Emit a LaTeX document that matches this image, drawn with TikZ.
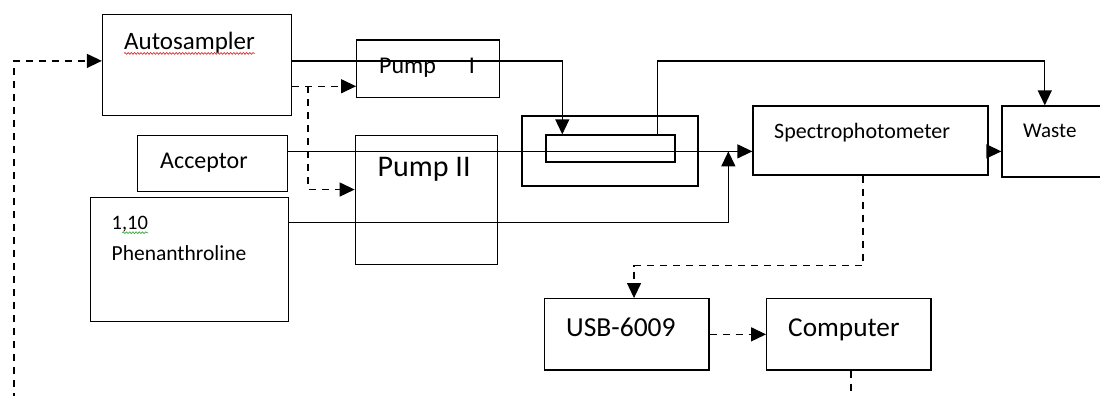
\documentclass[tikz,border=0pt]{standalone}
\usepackage{fontspec}
\setmainfont{Carlito}
\usetikzlibrary{arrows.meta,calc,decorations.pathmorphing}
\definecolor{spellred}{RGB}{226,44,44}
\definecolor{spellgreen}{RGB}{60,170,60}
\begin{document}
\begin{tikzpicture}[x=1pt,y=-1pt,
  box/.style={draw, line width=1.3pt, inner sep=0pt, rectangle},
  lbl/.style={anchor=base west, inner sep=0pt, text=black},
  flow/.style={line width=1.3pt, -{Triangle[length=15pt,width=14pt]}},
  dflow/.style={flow, dash pattern=on 7pt off 6pt},
  dline/.style={line width=1.3pt, dash pattern=on 7pt off 6pt},
  squiggle/.style={line width=0.7pt, decorate, decoration={snake, amplitude=0.9pt, segment length=3.2pt}}
  ]
\useasboundingbox (0,0) rectangle (1100,396);
\clip (0,0) rectangle (1100,396);

% boxes
\node[box, minimum width=189pt, minimum height=101.4pt] (auto) at (197,65) {};
\node[box, minimum width=143pt, minimum height=57.7pt] (pumpI) at (428.25,68.85) {};
\node[box, minimum width=149.5pt, minimum height=56.4pt] (acc) at (212.5,163.5) {};
\node[box, minimum width=142pt, minimum height=129.4pt] (pumpII) at (426.3,200) {};
\node[box, minimum width=198.2pt, minimum height=124pt] (phen) at (189.6,259.3) {};
\node[box, minimum width=176pt, minimum height=70pt] (reactor) at (610,151) {};
\node[box, minimum width=129pt, minimum height=27pt] (inner) at (610.5,148.5) {};
\node[box, minimum width=235pt, minimum height=69pt] (spec) at (870.5,140.5) {};
\node[box, minimum width=113pt, minimum height=71pt] (waste) at (1058.5,141.5) {};
\node[box, minimum width=164.2pt, minimum height=71.3pt] (usb) at (626.9,334.35) {};
\node[box, minimum width=164.3pt, minimum height=71.3pt] (comp) at (848.85,334.35) {};

% labels
\node[lbl, font=\fontsize{25}{30}\selectfont] (autoT) at (124,50) {Autosampler};
\node[lbl, font=\fontsize{24}{29}\selectfont] (pumpIT) at (379,74) {Pump\hspace{33pt}I};
\node[lbl, font=\fontsize{24}{29}\selectfont] (accT) at (160,168.3) {Acceptor};
\node[lbl, font=\fontsize{30}{36}\selectfont] (pumpIIT) at (377.5,176) {Pump II};
\node[lbl, font=\fontsize{20.5}{25}\selectfont] (n110) at (111.5,229.3) {1,10};
\node[lbl, font=\fontsize{21.5}{26}\selectfont] (phenT) at (111.5,260.7) {Phenanthroline};
\node[lbl, font=\fontsize{22}{26}\selectfont] (specT) at (774,138.3) {Spectrophotometer};
\node[lbl, font=\fontsize{21}{25}\selectfont] (wasteT) at (1023,137.7) {Waste};
\node[lbl, font=\fontsize{27.5}{33}\selectfont] (usbT) at (566,336.7) {USB-6009};
\node[lbl, font=\fontsize{27.3}{33}\selectfont] (compT) at (788,336.7) {Computer};

% spell-check squiggles
\draw[squiggle, spellred] ($(autoT.base west)+(0,3.4)$) -- ($(autoT.base east)+(0,3.4)$);
\draw[squiggle, spellgreen] ($(n110.base west)+(10.8,3.4)$) -- ($(n110.base east)+(0,3.4)$);

% coordinates
\coordinate (aE) at ($(auto.north east)!0.46!(auto.south east)$);
\coordinate (aD) at ($(auto.north east)!0.707!(auto.south east)$);
\coordinate (aW) at ($(auto.north west)!0.46!(auto.south west)$);
\coordinate (inA) at ($(inner.north west)!0.13!(inner.north east)$);
\coordinate (inB) at ($(inner.north west)!0.86!(inner.north east)$);
\coordinate (wT) at ($(waste.north west)!0.38!(waste.north east)$);
\coordinate (accE) at ($(acc.north east)!0.29!(acc.south east)$);
\coordinate (phE) at ($(phen.north east)!0.207!(phen.south east)$);
\coordinate (join) at ($(accE -| spec.west)+(-24,0)$);
\coordinate (split) at ($(aD)!0.25!(aD -| pumpI.west)$);
\coordinate (p2in) at ($(pumpII.north west)!0.42!(pumpII.south west)$);
\coordinate (loopS) at (14,400);
\coordinate (sB) at ($(spec.south west)!0.468!(spec.south east)$);
\coordinate (uT) at ($(usb.north west)!0.543!(usb.north east)$);
\coordinate (cB) at ($(comp.south west)!0.513!(comp.south east)$);
\coordinate (cOut) at (cB |- loopS);

% solid flow lines
\draw[flow] (aE) -| (inA);
\draw[flow] (inB) -- (inB |- aE) -| (wT);
\draw[flow] (accE) -- (accE -| spec.west);
\draw[flow] (phE) -| (join);
\draw[flow] (spec.east |- accE) -- (waste.west |- accE);

% dashed signal lines
\draw[dflow] (aD) -- (aD -| pumpI.west);
\draw[dflow] (split) |- (p2in);
\draw[dflow] (loopS) |- (aW);
\draw[dflow] (sB) -- ++(0,90) -| (uT);
\draw[dflow] (usb.east) -- (comp.west);
\draw[dline] (cB) -- (cOut);
\end{tikzpicture}
\end{document}
